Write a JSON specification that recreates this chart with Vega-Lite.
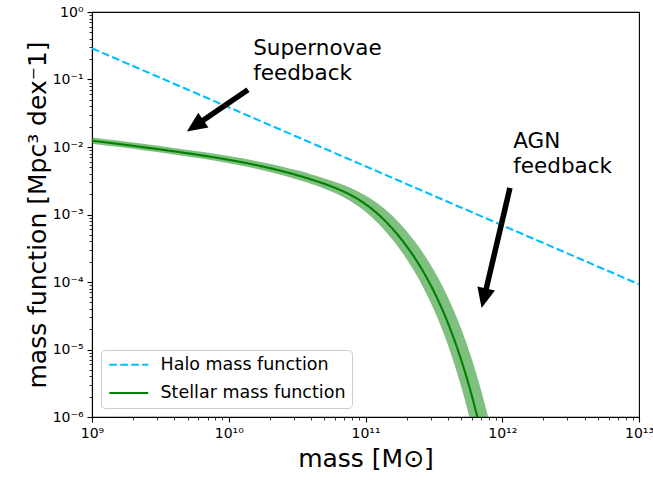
{
  "$schema": "https://vega.github.io/schema/vega-lite/v6.json",
  "width": 547,
  "height": 405,
  "autosize": {"type": "none"},
  "padding": {"left": 92, "top": 12, "right": 14, "bottom": 63},
  "background": "white",
  "config": {
    "font": "DejaVu Sans",
    "view": {"stroke": "black", "strokeWidth": 1.1},
    "axis": {
      "grid": false,
      "domainColor": "black",
      "domainWidth": 1.1,
      "tickColor": "black",
      "labelColor": "black",
      "labelFont": "DejaVu Sans",
      "labelFontSize": 14,
      "labelFlush": false,
      "labelOverlap": false,
      "titleFont": "DejaVu Sans",
      "titleFontSize": 25,
      "titleFontWeight": "normal",
      "titleColor": "black",
      "labelPadding": 4
    },
    "legend": {
      "orient": "bottom-left",
      "offset": 9,
      "fillColor": "rgba(255,255,255,0.8)",
      "strokeColor": "#cccccc",
      "cornerRadius": 4,
      "padding": 6,
      "symbolType": "M-1,0H5",
      "symbolSize": 169,
      "symbolStrokeWidth": 2.1,
      "labelFont": "DejaVu Sans",
      "labelFontSize": 17.5,
      "labelColor": "black",
      "labelOffset": 36,
      "labelLimit": 0,
      "rowPadding": 9.2,
      "title": null
    }
  },
  "datasets": {
    "lines": [
      {"m": 1e9, "phi": 0.290, "series": "Halo mass function"},
      {"m": 1e10, "phi": 0.0387, "series": "Halo mass function"},
      {"m": 1e11, "phi": 0.00518, "series": "Halo mass function"},
      {"m": 1e12, "phi": 0.000692, "series": "Halo mass function"},
      {"m": 1e13, "phi": 0.0000925, "series": "Halo mass function"},
      {"m": 1e9, "phi": 0.012388, "series": "Stellar mass function"},
      {"m": 1.585e9, "phi": 0.011041, "series": "Stellar mass function"},
      {"m": 2.512e9, "phi": 0.0097881, "series": "Stellar mass function"},
      {"m": 3.981e9, "phi": 0.0086257, "series": "Stellar mass function"},
      {"m": 6.31e9, "phi": 0.0075219, "series": "Stellar mass function"},
      {"m": 1e10, "phi": 0.0064565, "series": "Stellar mass function"},
      {"m": 1.585e10, "phi": 0.0053989, "series": "Stellar mass function"},
      {"m": 2.512e10, "phi": 0.0043311, "series": "Stellar mass function"},
      {"m": 3.162e10, "phi": 0.0038206, "series": "Stellar mass function"},
      {"m": 3.981e10, "phi": 0.0033196, "series": "Stellar mass function"},
      {"m": 5.012e10, "phi": 0.0028424, "series": "Stellar mass function"},
      {"m": 6.31e10, "phi": 0.002376, "series": "Stellar mass function"},
      {"m": 7.943e10, "phi": 0.0019045, "series": "Stellar mass function"},
      {"m": 1e11, "phi": 0.0014256, "series": "Stellar mass function"},
      {"m": 1.259e11, "phi": 0.00097724, "series": "Stellar mass function"},
      {"m": 1.585e11, "phi": 0.00060729, "series": "Stellar mass function"},
      {"m": 1.995e11, "phi": 0.00034041, "series": "Stellar mass function"},
      {"m": 2.512e11, "phi": 0.00016931, "series": "Stellar mass function"},
      {"m": 3.162e11, "phi": 0.000072444, "series": "Stellar mass function"},
      {"m": 3.981e11, "phi": 0.00002551, "series": "Stellar mass function"},
      {"m": 5.012e11, "phi": 0.000006984, "series": "Stellar mass function"},
      {"m": 5.623e11, "phi": 0.0000032584, "series": "Stellar mass function"},
      {"m": 6.31e11, "phi": 0.0000013895, "series": "Stellar mass function"},
      {"m": 7.079e11, "phi": 0.0000005358, "series": "Stellar mass function"},
      {"m": 7.943e11, "phi": 0.00000018459, "series": "Stellar mass function"},
      {"m": 8.913e11, "phi": 0.000000056054, "series": "Stellar mass function"}
    ],
    "band": [
      {"m": 1e9, "lo": 0.0112, "hi": 0.01385},
      {"m": 1.585e9, "lo": 0.009968, "hi": 0.012352},
      {"m": 2.512e9, "lo": 0.008829, "hi": 0.010977},
      {"m": 3.981e9, "lo": 0.0077625, "hi": 0.0097},
      {"m": 6.31e9, "lo": 0.0067453, "hi": 0.0084995},
      {"m": 1e10, "lo": 0.005753, "hi": 0.0073421},
      {"m": 1.585e10, "lo": 0.004765, "hi": 0.006207},
      {"m": 2.512e10, "lo": 0.0037817, "hi": 0.0050735},
      {"m": 3.162e10, "lo": 0.003306, "hi": 0.0045101},
      {"m": 3.981e10, "lo": 0.0028503, "hi": 0.0039583},
      {"m": 5.012e10, "lo": 0.0024131, "hi": 0.0034277},
      {"m": 6.31e10, "lo": 0.001977, "hi": 0.0029202},
      {"m": 7.943e10, "lo": 0.0015311, "hi": 0.0024215},
      {"m": 1e11, "lo": 0.0010937, "hi": 0.0019128},
      {"m": 1.259e11, "lo": 0.00071078, "hi": 0.0014022},
      {"m": 1.585e11, "lo": 0.00041783, "hi": 0.00093843},
      {"m": 1.995e11, "lo": 0.00021989, "hi": 0.00056885},
      {"m": 2.512e11, "lo": 0.0001012, "hi": 0.0003099},
      {"m": 3.162e11, "lo": 0.000039145, "hi": 0.00014906},
      {"m": 3.981e11, "lo": 0.000012093, "hi": 0.000061044},
      {"m": 5.012e11, "lo": 0.0000028036, "hi": 0.000020294},
      {"m": 5.623e11, "lo": 0.0000011846, "hi": 0.000010627},
      {"m": 6.31e11, "lo": 0.00000045182, "hi": 0.000005163},
      {"m": 7.079e11, "lo": 0.00000015382, "hi": 0.0000023077},
      {"m": 7.943e11, "lo": 0.00000004605, "hi": 0.00000093714},
      {"m": 8.913e11, "lo": 0.000000011945, "hi": 0.00000034218}
    ],
    "arrows": [
      {"name": "sn", "m1": 1.382e10, "p1": 0.0706, "m2": 5.68e9, "p2": 0.0207, "mt": 4.94e9, "pt": 0.0170},
      {"name": "agn", "m1": 1.138e12, "p1": 0.00247, "m2": 7.35e11, "p2": 0.0000574, "mt": 7.06e11, "pt": 0.0000412}
    ],
    "labels": [
      {"m": 1.509e10, "phi": 0.233, "label": "Supernovae\nfeedback"},
      {"m": 1.204e12, "phi": 0.00966, "label": "AGN\nfeedback"}
    ]
  },
  "layer": [
    {
      "data": {"name": "band"},
      "mark": {"type": "area", "color": "green", "opacity": 0.5, "clip": true, "interpolate": "monotone"},
      "encoding": {
        "x": {
          "field": "m", "type": "quantitative",
          "scale": {"type": "log", "domain": [1e9, 1e13], "nice": false},
          "axis": {
            "title": "mass [M\u2299]",
            "titlePadding": 6,
            "values": [1e9,2e9,3e9,4e9,5e9,6e9,7e9,8e9,9e9,1e10,2e10,3e10,4e10,5e10,6e10,7e10,8e10,9e10,1e11,2e11,3e11,4e11,5e11,6e11,7e11,8e11,9e11,1e12,2e12,3e12,4e12,5e12,6e12,7e12,8e12,9e12,1e13],
            "labelExpr": "abs(log(datum.value)/LN10 - round(log(datum.value)/LN10)) > 0.01 ? '' : '10' + ['\u2070','\u00b9','\u00b2','\u00b3','\u2074','\u2075','\u2076','\u2077','\u2078','\u2079','\u00b9\u2070','\u00b9\u00b9','\u00b9\u00b2','\u00b9\u00b3'][round(log(datum.value)/LN10)]",
            "tickSize": {"condition": {"test": "abs(log(datum.value)/LN10 - round(log(datum.value)/LN10)) < 0.01", "value": 5}, "value": 3},
            "tickWidth": {"condition": {"test": "abs(log(datum.value)/LN10 - round(log(datum.value)/LN10)) < 0.01", "value": 1.1}, "value": 0.8}
          }
        },
        "y": {
          "field": "lo", "type": "quantitative",
          "scale": {"type": "log", "domain": [1e-6, 1], "nice": false},
          "axis": {
            "title": "mass function [Mpc\u00b3 dex\u207b1]",
            "titlePadding": 2,
            "values": [1e-6,2e-6,3e-6,4e-6,5e-6,6e-6,7e-6,8e-6,9e-6,1e-5,2e-5,3e-5,4e-5,5e-5,6e-5,7e-5,8e-5,9e-5,1e-4,2e-4,3e-4,4e-4,5e-4,6e-4,7e-4,8e-4,9e-4,1e-3,2e-3,3e-3,4e-3,5e-3,6e-3,7e-3,8e-3,9e-3,1e-2,2e-2,3e-2,4e-2,5e-2,6e-2,7e-2,8e-2,9e-2,0.1,0.2,0.3,0.4,0.5,0.6,0.7,0.8,0.9,1],
            "labelExpr": "abs(log(datum.value)/LN10 - round(log(datum.value)/LN10)) > 0.01 ? '' : '10' + (round(log(datum.value)/LN10) < 0 ? '\u207b' : '') + ['\u2070','\u00b9','\u00b2','\u00b3','\u2074','\u2075','\u2076','\u2077','\u2078','\u2079'][abs(round(log(datum.value)/LN10))]",
            "tickSize": {"condition": {"test": "abs(log(datum.value)/LN10 - round(log(datum.value)/LN10)) < 0.01", "value": 5}, "value": 3},
            "tickWidth": {"condition": {"test": "abs(log(datum.value)/LN10 - round(log(datum.value)/LN10)) < 0.01", "value": 1.1}, "value": 0.8}
          }
        },
        "y2": {"field": "hi"}
      }
    },
    {
      "data": {"name": "lines"},
      "mark": {"type": "line", "strokeWidth": 2.1, "clip": true, "interpolate": "monotone"},
      "encoding": {
        "x": {"field": "m", "type": "quantitative"},
        "y": {"field": "phi", "type": "quantitative"},
        "color": {
          "field": "series", "type": "nominal",
          "scale": {"domain": ["Halo mass function", "Stellar mass function"], "range": ["#00bfff", "#008000"]}
        },
        "strokeDash": {
          "field": "series", "type": "nominal",
          "scale": {"domain": ["Halo mass function", "Stellar mass function"], "range": [[7.7, 3.3], [1, 0]]}
        }
      }
    },
    {
      "data": {"name": "arrows"},
      "mark": {"type": "rule", "color": "black", "strokeWidth": 5.5, "strokeCap": "butt"},
      "encoding": {
        "x": {"field": "m1", "type": "quantitative"},
        "y": {"field": "p1", "type": "quantitative"},
        "x2": {"field": "m2"},
        "y2": {"field": "p2"}
      }
    },
    {
      "data": {"name": "arrows"},
      "transform": [{"filter": "datum.name == 'sn'"}],
      "mark": {"type": "point", "shape": "M0,0L-0.45,-1L0.45,-1Z", "size": 1600, "filled": true, "color": "black", "opacity": 1, "strokeWidth": 0, "angle": 55.5},
      "encoding": {
        "x": {"field": "mt", "type": "quantitative"},
        "y": {"field": "pt", "type": "quantitative"}
      }
    },
    {
      "data": {"name": "arrows"},
      "transform": [{"filter": "datum.name == 'agn'"}],
      "mark": {"type": "point", "shape": "M0,0L-0.45,-1L0.45,-1Z", "size": 1600, "filled": true, "color": "black", "opacity": 1, "strokeWidth": 0, "angle": 13.3},
      "encoding": {
        "x": {"field": "mt", "type": "quantitative"},
        "y": {"field": "pt", "type": "quantitative"}
      }
    },
    {
      "data": {"name": "labels"},
      "mark": {"type": "text", "align": "left", "baseline": "alphabetic", "fontSize": 21.5, "font": "DejaVu Sans", "color": "black", "lineBreak": "\n", "lineHeight": 25},
      "encoding": {
        "x": {"field": "m", "type": "quantitative"},
        "y": {"field": "phi", "type": "quantitative"},
        "text": {"field": "label"}
      }
    }
  ]
}
